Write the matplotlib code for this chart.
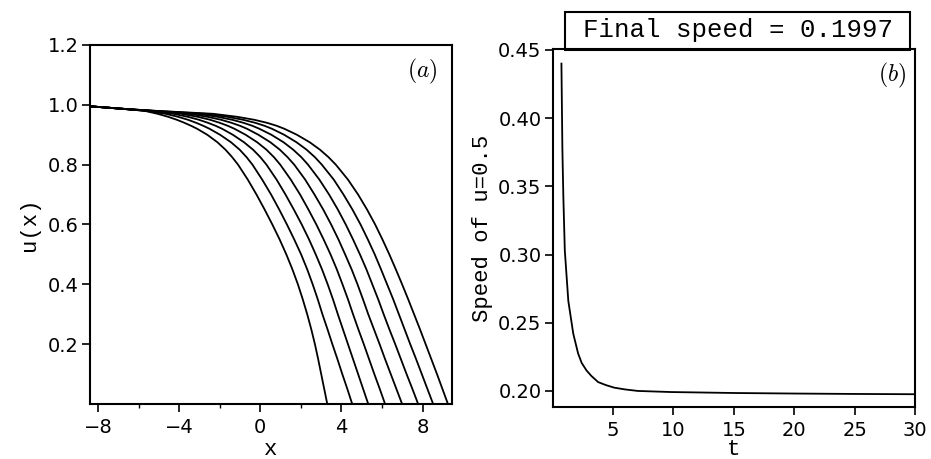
import numpy as np
import matplotlib
matplotlib.use('Agg')
import matplotlib.pyplot as plt
from matplotlib.patches import Rectangle

u_levels = [0.995, 0.99, 0.985, 0.98, 0.97, 0.96, 0.95, 0.94, 0.93, 0.92, 0.9,
            0.875, 0.85, 0.825, 0.8, 0.75, 0.7, 0.65, 0.6, 0.55, 0.5, 0.45,
            0.4, 0.35, 0.3, 0.25, 0.2, 0.15, 0.1, 0.05, 0.0]
x_c1 = [-8.4, -7.45, -6.55, -5.72, -5.07, -4.55, -4.12, -3.75, -3.42, -3.12, -2.62,
        -2.12, -1.72, -1.39, -1.1, -0.62, -0.19, 0.21, 0.59, 0.95, 1.28, 1.58,
        1.85, 2.09, 2.31, 2.51, 2.69, 2.85, 3.0, 3.15, 3.3]
x_c2 = [-8.4, -7.44, -6.53, -5.64, -4.68, -4.06, -3.57, -3.17, -2.82, -2.51, -1.99,
        -1.45, -1.02, -0.68, -0.39, 0.09, 0.53, 0.93, 1.31, 1.67, 2.01, 2.31,
        2.58, 2.83, 3.06, 3.31, 3.55, 3.8, 4.04, 4.29, 4.53]
x_c3 = [-8.4, -7.44, -6.51, -5.56, -4.29, -3.58, -3.03, -2.59, -2.21, -1.89, -1.36,
        -0.81, -0.36, 0.0, 0.3, 0.8, 1.24, 1.65, 2.04, 2.4, 2.73, 3.04,
        3.32, 3.58, 3.82, 4.07, 4.32, 4.57, 4.82, 5.07, 5.32]
x_c4 = [-8.4, -7.43, -6.49, -5.48, -3.9, -3.09, -2.48, -2.01, -1.61, -1.28, -0.73,
        -0.16, 0.3, 0.67, 0.98, 1.5, 1.96, 2.37, 2.76, 3.12, 3.46, 3.77,
        4.05, 4.32, 4.57, 4.83, 5.1, 5.36, 5.62, 5.89, 6.15]
x_c5 = [-8.4, -7.42, -6.46, -5.4, -3.5, -2.61, -1.94, -1.43, -1.01, -0.66, -0.1,
        0.49, 0.96, 1.34, 1.67, 2.21, 2.67, 3.1, 3.49, 3.85, 4.18, 4.5,
        4.79, 5.06, 5.32, 5.6, 5.88, 6.15, 6.43, 6.71, 6.99]
x_c6 = [-8.4, -7.41, -6.44, -5.33, -3.11, -2.12, -1.39, -0.84, -0.4, -0.05, 0.54,
        1.14, 1.62, 2.02, 2.35, 2.91, 3.39, 3.82, 4.21, 4.57, 4.91, 5.23,
        5.52, 5.81, 6.08, 6.36, 6.65, 6.93, 7.21, 7.5, 7.78]
x_c7 = [-8.4, -7.41, -6.42, -5.25, -2.72, -1.64, -0.85, -0.26, 0.2, 0.57, 1.17,
        1.78, 2.28, 2.69, 3.03, 3.62, 4.1, 4.54, 4.94, 5.3, 5.64, 5.95,
        6.25, 6.55, 6.83, 7.11, 7.39, 7.68, 7.96, 8.24, 8.52]
x_c8 = [-8.4, -7.4, -6.4, -5.17, -2.33, -1.15, -0.3, 0.32, 0.8, 1.18, 1.8,
        2.43, 2.94, 3.36, 3.72, 4.32, 4.82, 5.26, 5.66, 6.02, 6.36, 6.68,
        6.99, 7.29, 7.58, 7.87, 8.15, 8.43, 8.71, 8.98, 9.25]
profiles = [x_c1, x_c2, x_c3, x_c4, x_c5, x_c6, x_c7, x_c8]

# Panel (b): speed of the u=0.5 point against time
t_vals = [0.72, 0.8, 0.88, 1.0, 1.29, 1.7, 2.1, 2.4, 2.8, 3.2, 3.76, 4.4, 5.1,
          6.0, 7.06, 9.8, 15, 20, 25, 30]
speed_vals = [0.440, 0.377, 0.342, 0.303, 0.266, 0.242, 0.2275, 0.2205, 0.215,
              0.211, 0.2065, 0.2043, 0.2024, 0.2011, 0.200, 0.1992, 0.1985,
              0.1981, 0.1978, 0.1976]

plt.rcParams['font.family'] = 'DejaVu Sans'
plt.rcParams['mathtext.fontset'] = 'cm'
mono = 'Liberation Mono'

fig = plt.figure(figsize=(9.31, 4.59), dpi=100)
ax1 = fig.add_axes([0.0967, 0.1198, 0.3888, 0.7822])
ax2 = fig.add_axes([0.5937, 0.1126, 0.3891, 0.7800])

for ax in (ax1, ax2):
    for sp in ax.spines.values():
        sp.set_linewidth(1.5)
    ax.tick_params(direction='out', length=6, width=1.2, labelsize=14, pad=2)
    ax.tick_params(axis='x', pad=4)

# (a)
for xs in profiles:
    ax1.plot(xs, u_levels, color='black', lw=1.3)
ax1.set_xlim(-8.4, 9.45)
ax1.set_ylim(0, 1.2)
ax1.set_xticks([-8, -4, 0, 4, 8])
ax1.set_xticks([-6, -2, 2, 6], minor=True)
ax1.tick_params(axis='x', which='minor', direction='out', length=3, width=1.0)
ax1.set_yticks([0.2, 0.4, 0.6, 0.8, 1.0, 1.2])
ax1.set_yticklabels(['0.2', '0.4', '0.6', '0.8', '1.0', '1.2'])
ax1.set_xlabel('x', fontfamily=mono, fontsize=16, va='baseline')
ax1.xaxis.set_label_coords(0.5, -0.142)
ax1.set_ylabel('u(x)', fontfamily=mono, fontsize=16, labelpad=6)
ax1.text(0.917, 0.925, r'$(a)$', transform=ax1.transAxes, fontsize=17,
         ha='center', va='center')

# (b)
ax2.plot(t_vals, speed_vals, color='black', lw=1.3)
ax2.set_xlim(0, 30)
ax2.set_ylim(0.188, 0.4505)
ax2.set_xticks([5, 10, 15, 20, 25, 30])
ax2.set_yticks([0.20, 0.25, 0.30, 0.35, 0.40, 0.45])
ax2.set_yticklabels(['0.20', '0.25', '0.30', '0.35', '0.40', '0.45'])
ax2.set_xlabel('t', fontfamily=mono, fontsize=16, va='baseline')
ax2.xaxis.set_label_coords(0.5, -0.133)
ax2.set_ylabel('Speed of u=0.5', fontfamily=mono, fontsize=16, labelpad=4)
ax2.text(0.937, 0.928, r'$(b)$', transform=ax2.transAxes, fontsize=17,
         ha='center', va='center')

# boxed caption sitting on top of panel (b)
fig.patches.append(Rectangle((0.6069, 0.892), 0.3706, 0.0817, transform=fig.transFigure,
                             fill=False, edgecolor='black', lw=1.5))
fig.text(0.7922, 0.934, 'Final speed = 0.1997', fontfamily=mono, fontsize=18.5,
         ha='center', va='center')

fig.savefig('out.png', dpi=100)
